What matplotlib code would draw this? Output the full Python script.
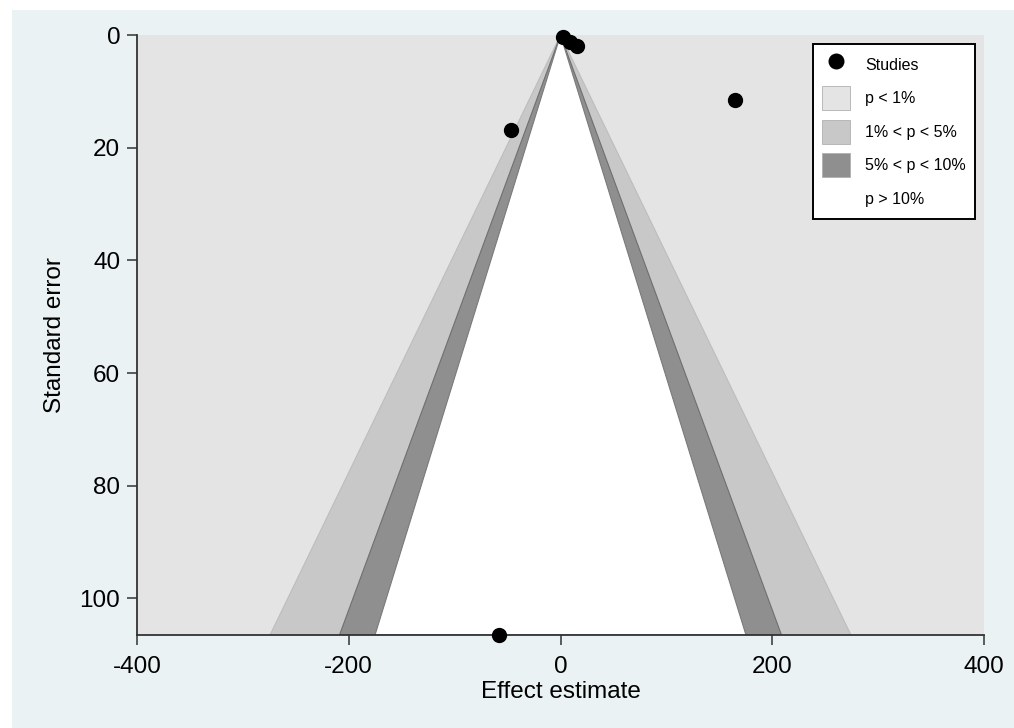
import matplotlib

matplotlib.use("Agg")
import matplotlib.pyplot as plt  # noqa: E402
from matplotlib.lines import Line2D  # noqa: E402
from matplotlib.patches import Patch, Polygon, Rectangle  # noqa: E402

plt.rcParams["font.family"] = ["Liberation Sans", "DejaVu Sans"]

# Study estimates
effects = [2.4, 9.0, 15.6, 165.0, -47.0, -58.0]
std_errors = [0.4, 1.2, 2.0, 11.6, 16.9, 106.5]

# Contour significance levels (two-sided z) and fills
z_levels = [2.576, 1.960, 1.645]
fill_colors = ["#c8c8c8", "#8f8f8f", "#ffffff"]
edge_colors = ["#bdbdbd", "#6f6f6f", "#7a7a7a"]
legend_labels = ["p < 1%", "1% < p < 5%", "5% < p < 10%", "p > 10%"]
legend_colors = ["#e4e4e4", "#c8c8c8", "#8f8f8f", "#ffffff"]

x_ticks = [-400, -200, 0, 200, 400]
y_ticks = [0, 20, 40, 60, 80, 100]

W, H = 1014, 728
se_max = max(std_errors)

fig = plt.figure(figsize=(W / 100, H / 100), dpi=100)
fig.patch.set_facecolor("white")
fig.add_artist(Rectangle((12 / W, 0), 1 - 12 / W, 1 - 10 / H,
                         transform=fig.transFigure, facecolor="#eaf2f3",
                         edgecolor="none", zorder=-1))

ax = fig.add_axes([137 / W, (H - 635) / H, (984 - 137) / W, 600 / H])
ax.set_facecolor("#e4e4e4")

for z, fc, ec in zip(z_levels, fill_colors, edge_colors):
    half = z * se_max
    tri = Polygon([(-half, se_max), (0, 0), (half, se_max)], closed=True,
                  facecolor=fc, edgecolor=ec, linewidth=0.8, zorder=1)
    ax.add_patch(tri)

ax.plot(effects, std_errors, "o", color="black", markersize=10,
        linestyle="none", clip_on=False, zorder=5)

ax.set_xlim(-400, 400)
ax.set_ylim(se_max, 0)
ax.set_xticks(x_ticks)
ax.set_yticks(y_ticks)
ax.set_xticklabels([str(v) for v in x_ticks])
ax.set_yticklabels([str(v) for v in y_ticks])
ax.tick_params(axis="both", direction="out", length=7, width=1.1,
               color="#333333", labelsize=17.5, labelcolor="black")
ax.tick_params(axis="x", pad=8)
ax.tick_params(axis="y", pad=5)

for side in ("top", "right"):
    ax.spines[side].set_visible(False)
for side in ("left", "bottom"):
    ax.spines[side].set_color("#333333")
    ax.spines[side].set_linewidth(1.3)
    ax.spines[side].set_zorder(4)

ax.set_xlabel("Effect estimate", fontsize=17.5)
ax.set_ylabel("Standard error", fontsize=17.5)
ax.xaxis.set_label_coords(0.5, -0.077)
ax.yaxis.set_label_coords((66 - 137) / 847, 0.5)

handles = [Line2D([], [], marker="o", color="black", linestyle="none",
                  markersize=10.5)]
for c in legend_colors:
    if c == "#ffffff":
        handles.append(Patch(facecolor=c, edgecolor="none"))
    else:
        handles.append(Patch(facecolor=c, edgecolor="#b0b0b0", linewidth=0.6))
leg = fig.legend(handles, ["Studies"] + legend_labels,
                 loc="upper right", bbox_to_anchor=(975 / W, 1 - 44 / H),
                 borderaxespad=0, fontsize=11.5, frameon=True, fancybox=False,
                 framealpha=1, edgecolor="black", handlelength=1.8,
                 handleheight=1.9, handletextpad=0.95, labelspacing=0.62,
                 borderpad=0.55)
leg.get_frame().set_linewidth(1.4)

fig.savefig("out.png", dpi=100, facecolor=fig.get_facecolor())
